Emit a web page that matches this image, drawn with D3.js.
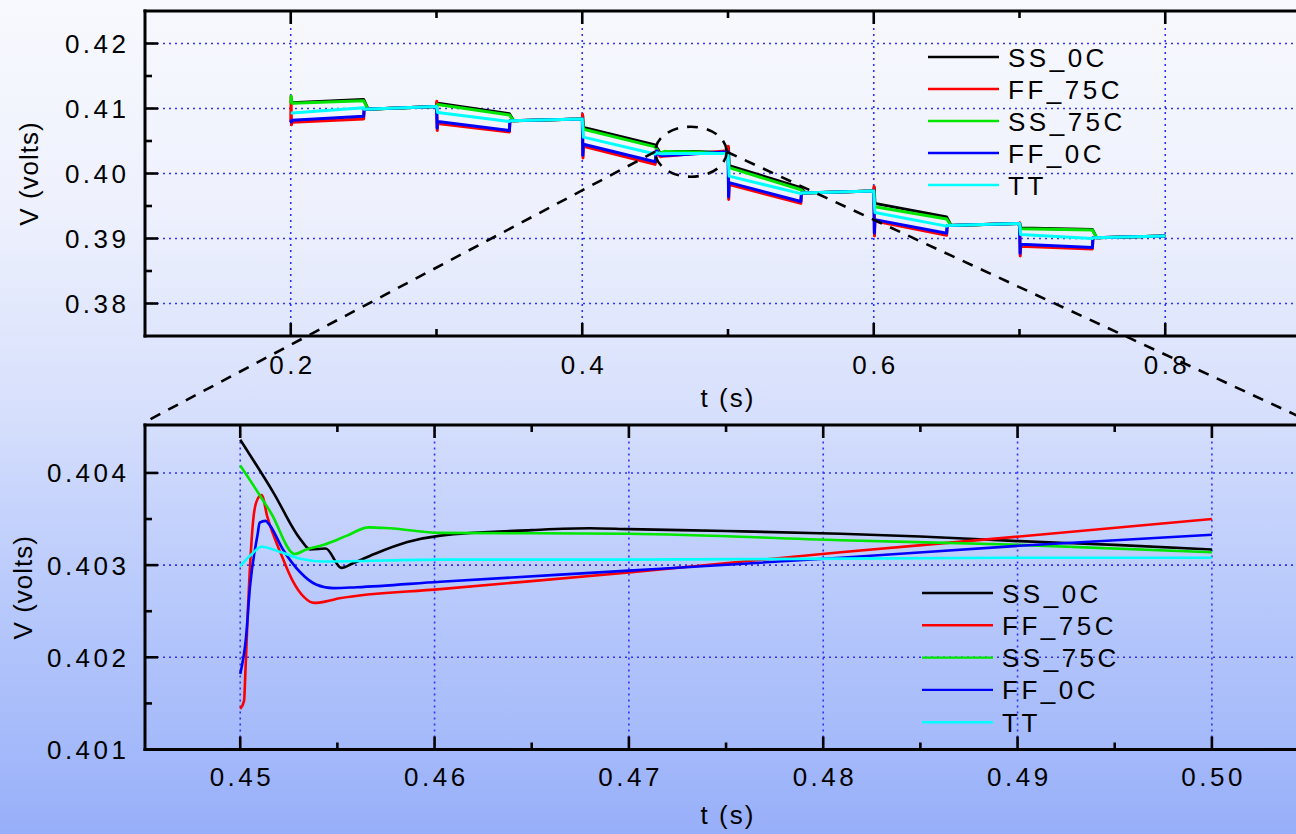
<!DOCTYPE html>
<html><head><meta charset="utf-8">
<script src="https://cdn.jsdelivr.net/npm/d3@7"></script>
<style>html,body{margin:0;padding:0;overflow:hidden;background:#fff}svg{display:block}
text{font-family:"Liberation Sans",Arial,sans-serif;fill:#000}</style>
</head><body><svg id="c" width="1296" height="834"></svg>
<script>
// ---------- DATA ----------
const seriesNames  = ["SS_0C", "FF_75C", "SS_75C", "FF_0C", "TT"];
const seriesColors = ["#000000", "#ff0000", "#00e600", "#0000ff", "#00ffff"];

// top chart: load steps every 0.1 s, settling every 0.05 s after
const stepTimes    = [0.2, 0.3, 0.4, 0.5, 0.6, 0.7];
const settleTimes  = [0.25, 0.35, 0.45, 0.55, 0.65, 0.75];
const settledStart = [0.4099, 0.4081, null, 0.3970, 0.3920, 0.3901];
const settledEnd   = [0.4103, 0.4084, null, 0.3973, 0.3923, 0.3904];
const spikeHigh    = [0.4119, 0.4111, 0.4091, 0.4042, 0.3980, 0.3924];
const spikeLow     = [0.4075, 0.4066, 0.4024, 0.3960, 0.3904, 0.3873];

const spreadStart = {
  "SS_0C":  [0.4109, 0.4108, 0.4071, 0.4012, 0.3954, 0.3916],
  "FF_75C": [0.4079, 0.4077, 0.4042, 0.3983, 0.3927, 0.3888],
  "SS_75C": [0.4108, 0.4106, 0.4068, 0.4009, 0.3949, 0.3915],
  "FF_0C":  [0.4082, 0.4080, 0.4045, 0.3986, 0.3929, 0.3891],
  "TT":     [0.4093, 0.4094, 0.4056, 0.3996, 0.3940, 0.3906]
};
const spreadEnd = {
  "SS_0C":  [0.4114, 0.4092, 0.4044, 0.3978, 0.3933, 0.3914],
  "FF_75C": [0.4084, 0.4064, 0.4014, 0.3954, 0.3905, 0.3884],
  "SS_75C": [0.4112, 0.4090, 0.4041, 0.3975, 0.3930, 0.3913],
  "FF_0C":  [0.4088, 0.4066, 0.4018, 0.3957, 0.3908, 0.3886],
  "TT":     [0.4101, 0.4080, 0.4030, 0.3969, 0.3919, 0.3900]
};

// zoomed window 0.45 .. 0.50 s  ([t, V])
const zoomSS_0C = [[0.4500,0.40436],[0.4517,0.40379],[0.4531,0.40328],[0.4536,0.40317],[0.4544,0.40318],[0.4552,0.40297],
  [0.4558,0.40302],[0.4569,0.40312],[0.4586,0.40325],[0.4603,0.40332],[0.4650,0.40338],[0.4680,0.40340],
  [0.4700,0.40339],[0.4750,0.40337],[0.4809,0.40334],[0.4850,0.40331],[0.4901,0.40326],[0.4950,0.40322],[0.5000,0.40317]];
const zoomFF_75C = [[0.4500,0.40144],[0.4502,0.40153],[0.45025,0.40175],[0.4504,0.40254],[0.4507,0.40355],
  [0.4509,0.40372],[0.4511,0.40376],[0.4514,0.40352],[0.4521,0.40312],[0.4527,0.40283],[0.4533,0.40265],
  [0.4538,0.40259],[0.4545,0.40261],[0.4551,0.40264],[0.4603,0.40274],[0.4700,0.40292],[0.4809,0.40314],
  [0.4901,0.40331],[0.5000,0.40350]];
const zoomSS_75C = [[0.4500,0.40408],[0.4516,0.40356],[0.4528,0.40312],[0.4534,0.40317],[0.4543,0.40322],[0.4555,0.40332],
  [0.4566,0.40341],[0.4577,0.40340],[0.4603,0.40335],[0.4700,0.40334],[0.4809,0.40327],[0.4901,0.40322],[0.5000,0.40314]];
const zoomFF_0C = [[0.4500,0.40182],[0.4503,0.40222],[0.4505,0.40276],[0.4509,0.40334],[0.4510,0.40346],
  [0.4513,0.40348],[0.4515,0.40344],[0.4522,0.40317],[0.4531,0.40292],[0.4539,0.40279],[0.4548,0.40275],
  [0.4560,0.40276],[0.4603,0.40282],[0.4700,0.40294],[0.4809,0.40308],[0.4901,0.40321],[0.5000,0.40333]];
const zoomTT = [[0.4500,0.40299],[0.4505,0.40310],[0.4511,0.40320],[0.4521,0.40314],[0.4531,0.40307],
  [0.4543,0.40304],[0.4603,0.40306],[0.4700,0.40306],[0.4809,0.40307],[0.4901,0.40308],[0.5000,0.40308]];
const zoomData = {"SS_0C": zoomSS_0C, "FF_75C": zoomFF_75C, "SS_75C": zoomSS_75C, "FF_0C": zoomFF_0C, "TT": zoomTT};

// ticks
const topXTicks = [0.2, 0.4, 0.6, 0.8];
const topXMinor = [0.3, 0.5, 0.7];
const topYTicks = [0.38, 0.39, 0.40, 0.41, 0.42];
const topYMinor = [0.385, 0.395, 0.405, 0.415];
const botXTicks = [0.45, 0.46, 0.47, 0.48, 0.49, 0.50];
const botXMinor = [0.455, 0.465, 0.475, 0.485, 0.495];
const botYTicks = [0.401, 0.402, 0.403, 0.404];
const botYMinor = [0.4015, 0.4025, 0.4035];
const xLabel = "t (s)", yLabel = "V (volts)";
// zoom ellipse in top-chart data units
const ellipseT = [0.4500, 0.4991], ellipseV = [0.3995, 0.4072];

// ---------- BUILD ----------
function buildTop(name) {
  const pts = [];
  const st = spreadStart[name], en = spreadEnd[name];
  stepTimes.forEach((ts, k) => {
    const prev = pts.length ? pts[pts.length - 1][1] : st[k];
    pts.push([ts, prev]);
    if (name === "FF_75C") { pts.push([ts + 0.0002, spikeHigh[k]]); pts.push([ts + 0.0005, spikeLow[k]]); }
    else if (name === "FF_0C") { pts.push([ts + 0.0004, spikeLow[k] + 0.0004]); }
    else if (name === "SS_0C" && k > 0) { pts.push([ts + 0.0003, spikeHigh[k] - 0.0002]); }
    else if (name === "SS_75C" && k === 0) { pts.push([ts + 0.0003, spikeHigh[k]]); }
    pts.push([ts + 0.0008, st[k]]);
    const te = settleTimes[k];
    pts.push([te, en[k]]);
    if (k === 2) { zoomData[name].forEach(p => pts.push(p)); }
    else {
      const lag = (name === "SS_0C" || name === "SS_75C") ? 0.003 : 0.0004;
      pts.push([te + lag, settledStart[k]]);
      pts.push([ts + 0.1, settledEnd[k]]);
    }
  });
  return pts;
}

const svg = d3.select("#c");
const defs = svg.append("defs");
const grad = defs.append("linearGradient").attr("id", "bg").attr("x1", 0).attr("y1", 0).attr("x2", 0).attr("y2", 1);
[[0, "#f8f9fe"], [0.25, "#eef1fd"], [0.5, "#d6dffc"], [0.6, "#c7d4fc"], [0.75, "#b4c6fb"], [0.9, "#a4b9fa"], [1, "#97aff9"]]
  .forEach(([o, c]) => grad.append("stop").attr("offset", o).attr("stop-color", c));
svg.append("rect").attr("width", 1296).attr("height", 834).attr("fill", "url(#bg)");

const FS = 26, LS = 3.5;
function panel(cfg) {
  const { x, y, xT, xM, yT, yM, fx, fy, data, curve, legendY, legendX, rowH, xLabY, xTickY } = cfg;
  const [x0, x1] = x.range(), [y0, y1] = y.range(); // y0 bottom, y1 top
  const g = svg.append("g");
  const grid = g.append("g").attr("stroke", "#2f32ff").attr("stroke-width", 1.6).attr("stroke-dasharray", "2,4");
  yT.forEach(v => { if (Math.abs(y(v) - y0) > 2) grid.append("line").attr("x1", x0).attr("x2", x1).attr("y1", y(v)).attr("y2", y(v)); });
  xT.forEach(v => grid.append("line").attr("x1", x(v)).attr("x2", x(v)).attr("y1", y0).attr("y2", y1));

  const line = d3.line().x(d => x(d[0])).y(d => y(d[1])).curve(curve);
  seriesNames.forEach((n, i) => {
    g.append("path").attr("d", line(data[n])).attr("fill", "none").attr("stroke", seriesColors[i])
      .attr("stroke-width", cfg.lw).attr("stroke-linejoin", "round");
  });

  const ax = g.append("g").attr("stroke", "#000").attr("stroke-width", 3).attr("stroke-linecap", "square");
  ax.append("line").attr("x1", x0).attr("x2", x0).attr("y1", y0).attr("y2", y1);
  ax.append("line").attr("x1", x0).attr("x2", x1).attr("y1", y0).attr("y2", y0);
  ax.append("line").attr("x1", x0).attr("x2", x1).attr("y1", y1).attr("y2", y1);
  const tk = g.append("g").attr("stroke", "#000").attr("stroke-width", 2.6);
  const LM = 13, Lm = 7;
  xT.forEach(v => { tk.append("line").attr("x1", x(v)).attr("x2", x(v)).attr("y1", y0).attr("y2", y0 - LM);
                    tk.append("line").attr("x1", x(v)).attr("x2", x(v)).attr("y1", y1).attr("y2", y1 + LM); });
  xM.forEach(v => { tk.append("line").attr("x1", x(v)).attr("x2", x(v)).attr("y1", y0).attr("y2", y0 - Lm);
                    tk.append("line").attr("x1", x(v)).attr("x2", x(v)).attr("y1", y1).attr("y2", y1 + Lm); });
  yT.forEach(v => tk.append("line").attr("x1", x0).attr("x2", x0 + LM).attr("y1", y(v)).attr("y2", y(v)));
  yM.forEach(v => tk.append("line").attr("x1", x0).attr("x2", x0 + Lm).attr("y1", y(v)).attr("y2", y(v)));

  const lab = g.append("g").attr("font-size", FS).attr("letter-spacing", LS);
  xT.forEach(v => lab.append("text").attr("x", x(v) + LS / 2).attr("y", xTickY).attr("text-anchor", "middle").text(fx(v)));
  yT.forEach(v => lab.append("text").attr("x", 126 + LS).attr("y", y(v) + 9.5).attr("text-anchor", "end").text(fy(v)));
  lab.append("text").attr("x", (x0 + 1311) / 2).attr("y", xLabY).attr("text-anchor", "middle").attr("letter-spacing", 2).text(xLabel);
  lab.append("text").attr("transform", `translate(${cfg.yLabX},${(y0 + y1) / 2}) rotate(-90)`)
    .attr("text-anchor", "middle").attr("letter-spacing", 1).text(yLabel);

  const lg = g.append("g");
  seriesNames.forEach((n, i) => {
    const yy = legendY + i * rowH;
    lg.append("line").attr("x1", legendX).attr("x2", legendX + 71).attr("y1", yy).attr("y2", yy)
      .attr("stroke", seriesColors[i]).attr("stroke-width", 2.4);
    lg.append("text").attr("x", legendX + 80).attr("y", yy + 9.5).attr("font-size", FS).attr("letter-spacing", LS).text(n);
  });
}

const xTop = d3.scaleLinear().domain([0.1, 0.9]).range([145, 1311]);
const yTop = d3.scaleLinear().domain([0.375, 0.425]).range([336, 11]);
const topData = {}; seriesNames.forEach(n => topData[n] = buildTop(n));
panel({ x: xTop, y: yTop, xT: topXTicks, xM: topXMinor, yT: topYTicks, yM: topYMinor,
  fx: d3.format(".1f"), fy: d3.format(".2f"), data: topData, curve: d3.curveLinear, lw: 3,
  legendX: 928, legendY: 57, rowH: 32, xTickY: 374, xLabY: 407, yLabX: 38 });

const xBot = d3.scaleLinear().domain([0.4451, 0.5051]).range([145, 1311]);
const yBot = d3.scaleLinear().domain([0.401, 0.40452]).range([749.5, 425]);
panel({ x: xBot, y: yBot, xT: botXTicks, xM: botXMinor, yT: botYTicks, yM: botYMinor,
  fx: d3.format(".2f"), fy: d3.format(".3f"), data: zoomData, curve: d3.curveMonotoneX, lw: 2.6,
  legendX: 922, legendY: 593, rowH: 32.3, xTickY: 786, xLabY: 824, yLabX: 32 });

// zoom annotation
const ecx = (xTop(ellipseT[0]) + xTop(ellipseT[1])) / 2, ecy = (yTop(ellipseV[0]) + yTop(ellipseV[1])) / 2;
const erx = (xTop(ellipseT[1]) - xTop(ellipseT[0])) / 2, ery = (yTop(ellipseV[0]) - yTop(ellipseV[1])) / 2;
const ann = svg.append("g").attr("fill", "none").attr("stroke", "#000").attr("stroke-width", 2.6).attr("stroke-dasharray", "11,9");
ann.append("ellipse").attr("cx", ecx).attr("cy", ecy).attr("rx", erx).attr("ry", ery);
const [bx0, bx1] = xBot.range(), byTop = yBot.range()[1];
ann.append("line").attr("x1", ecx - erx).attr("y1", ecy).attr("x2", bx0).attr("y2", byTop - 3);
ann.append("line").attr("x1", ecx + erx).attr("y1", ecy).attr("x2", bx1).attr("y2", byTop - 3);
</script></body></html>
